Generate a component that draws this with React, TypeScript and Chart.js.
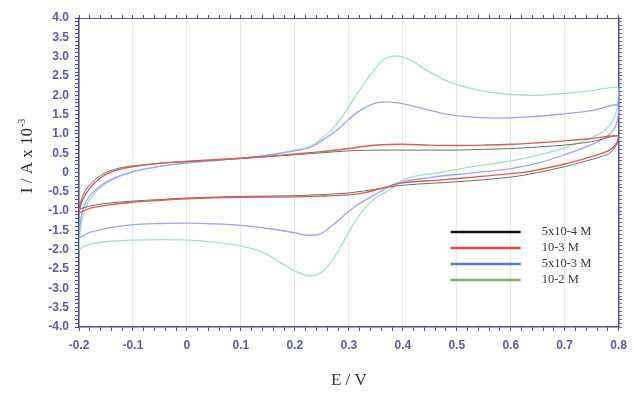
import { useEffect, useRef } from "react";
import { Chart, registerables } from "chart.js";

Chart.register(...registerables);

// Cyclic voltammograms: potential sweep -0.2 V -> 0.8 V -> -0.2 V
const seriesLabels = ["5x10-4 M", "10-3 M", "5x10-3 M", "10-2 M"];
const xTickValues = [-0.2, -0.1, 0, 0.1, 0.2, 0.3, 0.4, 0.5, 0.6, 0.7, 0.8];
const yTickValues = [-4, -3.5, -3, -2.5, -2, -1.5, -1, -0.5, 0, 0.5, 1, 1.5, 2, 2.5, 3, 3.5, 4];

// 5x10-4 M
const blackE = [
  -0.2, -0.198, -0.193, -0.185, -0.17, -0.15, -0.12, -0.08, -0.04, 0, 0.05, 0.1, 0.15, 0.2, 0.25, 0.3, 0.35, 0.4, 0.45, 0.5, 0.55, 0.6, 0.65, 0.7, 0.75, 0.8,
  0.798, 0.793, 0.785, 0.77, 0.74, 0.7, 0.65, 0.6, 0.5, 0.4, 0.35, 0.3, 0.25, 0.2, 0.1, 0, -0.05, -0.1, -0.15, -0.18, -0.2,
];
const blackI = [
  -0.95, -0.8, -0.6, -0.4, -0.18, 0.0, 0.13, 0.2, 0.25, 0.28, 0.32, 0.36, 0.41, 0.46, 0.51, 0.56, 0.58, 0.58, 0.58, 0.58, 0.6, 0.62, 0.66, 0.71, 0.8, 0.95,
  0.78, 0.65, 0.52, 0.42, 0.3, 0.15, 0.0, -0.12, -0.24, -0.33, -0.43, -0.53, -0.57, -0.6, -0.62, -0.66, -0.7, -0.74, -0.8, -0.87, -0.95,
];

// 10-3 M
const redE = [
  -0.2, -0.198, -0.193, -0.185, -0.17, -0.15, -0.12, -0.08, -0.04, 0, 0.05, 0.1, 0.15, 0.2, 0.25, 0.3, 0.33, 0.36, 0.4, 0.45, 0.5, 0.55, 0.6, 0.65, 0.7, 0.75, 0.8,
  0.798, 0.793, 0.785, 0.77, 0.75, 0.7, 0.644, 0.6, 0.53, 0.474, 0.4, 0.363, 0.33, 0.3, 0.25, 0.2, 0.1, 0.0, -0.05, -0.1, -0.15, -0.18, -0.2,
];
const redI = [
  -1.05, -0.9, -0.7, -0.5, -0.25, -0.05, 0.1, 0.19, 0.25, 0.29, 0.33, 0.37, 0.42, 0.48, 0.54, 0.62, 0.68, 0.72, 0.73, 0.71, 0.7, 0.71, 0.73, 0.77, 0.82, 0.88, 0.95,
  0.82, 0.7, 0.6, 0.5, 0.41, 0.22, 0.05, -0.03, -0.12, -0.19, -0.27, -0.4, -0.52, -0.58, -0.61, -0.63, -0.64, -0.68, -0.72, -0.77, -0.85, -0.93, -1.05,
];

// 5x10-3 M
const blueE = [
  -0.2, -0.199, -0.196, -0.19, -0.18, -0.165, -0.14, -0.1, -0.05, 0, 0.05, 0.1, 0.15, 0.2, 0.23, 0.26, 0.28, 0.3, 0.315, 0.333, 0.35, 0.366, 0.39, 0.425, 0.485, 0.566, 0.644, 0.7, 0.75, 0.8,
  0.799, 0.795, 0.787, 0.775, 0.75, 0.7, 0.65, 0.6, 0.53, 0.45, 0.39, 0.364, 0.345, 0.327, 0.31, 0.296, 0.28, 0.265, 0.245, 0.22, 0.2, 0.15, 0.1, 0.05, 0, -0.05, -0.1, -0.15, -0.18, -0.2,
];
const blueI = [
  -1.7, -1.45, -1.15, -0.85, -0.6, -0.4, -0.18, 0.02, 0.16, 0.25, 0.31, 0.37, 0.45, 0.56, 0.66, 0.92, 1.12, 1.38, 1.55, 1.7, 1.8, 1.83, 1.8, 1.7, 1.5, 1.41, 1.45, 1.52, 1.6, 1.75,
  1.45, 1.22, 1.05, 0.9, 0.72, 0.46, 0.24, 0.1, -0.01, -0.13, -0.27, -0.45, -0.6, -0.74, -0.9, -1.05, -1.25, -1.42, -1.6, -1.62, -1.56, -1.45, -1.37, -1.33, -1.31, -1.32, -1.35, -1.45, -1.55, -1.7,
];

// 10-2 M
const greenE = [
  -0.2, -0.199, -0.196, -0.19, -0.18, -0.165, -0.14, -0.1, -0.05, 0, 0.05, 0.1, 0.15, 0.2, 0.23, 0.26, 0.28, 0.3, 0.32, 0.345, 0.365, 0.385, 0.405, 0.425, 0.45, 0.48, 0.52, 0.56, 0.6, 0.65, 0.7, 0.75, 0.8,
  0.799, 0.795, 0.787, 0.775, 0.75, 0.7, 0.65, 0.6, 0.53, 0.47, 0.41, 0.375, 0.35, 0.327, 0.302, 0.278, 0.254, 0.229, 0.2, 0.17, 0.14, 0.1, 0.05, 0, -0.05, -0.1, -0.14, -0.17, -0.19, -0.2,
];
const greenI = [
  -2.0, -1.7, -1.35, -1.0, -0.7, -0.45, -0.2, 0.02, 0.16, 0.25, 0.31, 0.37, 0.45, 0.58, 0.7, 1.0, 1.3, 1.7, 2.14, 2.62, 2.93, 3.02, 2.97, 2.82, 2.6, 2.38, 2.2, 2.08, 2.02, 2.0, 2.05, 2.12, 2.19,
  1.85, 1.55, 1.3, 1.1, 0.9, 0.64, 0.45, 0.3, 0.15, 0.0, -0.14, -0.45, -0.65, -0.97, -1.49, -2.09, -2.53, -2.68, -2.55, -2.3, -2.06, -1.9, -1.8, -1.75, -1.74, -1.75, -1.78, -1.83, -1.9, -2.0,
];

const lineColors = ["#6e6e6e", "#e05a5a", "#a2a4ee", "#a4e0c6"];
const legendColors = ["#111111", "#e84444", "#5479c4", "#8ca872"];

const axisColor = "#4d4d9a";
const tickTextColor = "#5c5ca2";
const yTitleMain = "I / A x 10";
const yTitleExp = "-3";

const toPoints = (e: number[], i: number[]) => e.map((x, k) => ({ x, y: i[k] }));

const isXMajor = (v: number) => xTickValues.some((t) => Math.abs(t - v) < 1e-6);
const isYMajor = (v: number) => yTickValues.some((t) => Math.abs(t - v) < 1e-6);
const fmt = (v: number) => (Math.abs(v) < 1e-9 ? "0" : v.toFixed(1));

const legendPlugin = {
  id: "cvLegend",
  afterDraw(chart: any) {
    const { ctx, chartArea } = chart;
    const x0 = chartArea.right - 168;
    const x1 = chartArea.right - 98;
    const tx = chartArea.right - 77;
    let y = chartArea.bottom - 95;
    ctx.save();
    ctx.font = "12.5px 'Liberation Serif'";
    ctx.textBaseline = "middle";
    ctx.textAlign = "left";
    seriesLabels.forEach((label, i) => {
      ctx.strokeStyle = legendColors[i];
      ctx.lineWidth = 2.5;
      ctx.beginPath();
      ctx.moveTo(x0, y);
      ctx.lineTo(x1, y);
      ctx.stroke();
      ctx.fillStyle = "#3a3a3a";
      ctx.fillText(label, tx, y);
      y += 16;
    });
    ctx.restore();
  },
};

const yTitlePlugin = {
  id: "yTitle",
  afterDraw(chart: any) {
    const { ctx, chartArea } = chart;
    ctx.save();
    ctx.translate(28, chartArea.top + 138);
    ctx.rotate(-Math.PI / 2);
    ctx.fillStyle = "#333333";
    ctx.textBaseline = "middle";
    ctx.textAlign = "left";
    ctx.font = "17px 'Liberation Serif'";
    const w1 = ctx.measureText(yTitleMain).width;
    ctx.font = "10px 'Liberation Serif'";
    const w2 = ctx.measureText(yTitleExp).width;
    const start = -(w1 + w2 + 1) / 2;
    ctx.font = "17px 'Liberation Serif'";
    ctx.fillText(yTitleMain, start, 0);
    ctx.font = "10px 'Liberation Serif'";
    ctx.fillText(yTitleExp, start + w1 + 1, -6);
    ctx.restore();
  },
};

export default function App() {
  const canvasRef = useRef<HTMLCanvasElement>(null);

  useEffect(() => {
    document.body.style.margin = "0";
    const tickFont = { family: "'Liberation Sans', Arial, sans-serif", size: 12, weight: "bold" };
    const sets = [
      { label: seriesLabels[0], data: toPoints(blackE, blackI), color: lineColors[0], width: 1, order: 1 },
      { label: seriesLabels[1], data: toPoints(redE, redI), color: lineColors[1], width: 1.4, order: 0 },
      { label: seriesLabels[2], data: toPoints(blueE, blueI), color: lineColors[2], width: 1.3, order: 2 },
      { label: seriesLabels[3], data: toPoints(greenE, greenI), color: lineColors[3], width: 1.3, order: 3 },
    ];

    const chart = new Chart(canvasRef.current!, {
      type: "scatter",
      data: {
        datasets: sets.map((s) => ({
          label: s.label,
          data: s.data,
          showLine: true,
          borderColor: s.color,
          backgroundColor: s.color,
          borderWidth: s.width,
          pointRadius: 0,
          pointHoverRadius: 0,
          tension: 0.35,
          fill: false,
          order: s.order,
        })),
      },
      options: {
        animation: false,
        responsive: false,
        layout: { padding: 0 },
        plugins: {
          legend: { display: false },
          tooltip: { enabled: false },
        },
        scales: {
          x: {
            type: "linear",
            position: "bottom",
            min: -0.2,
            max: 0.8,
            ticks: {
              stepSize: 0.02,
              autoSkip: false,
              maxRotation: 0,
              padding: 7,
              color: tickTextColor,
              font: tickFont,
              callback: (v: any) => (isXMajor(Number(v)) ? fmt(Number(v)) : ""),
            },
            grid: {
              color: (c: any) => (c.tick && isXMajor(c.tick.value) ? "rgba(205,205,225,0.5)" : "transparent"),
              tickColor: axisColor,
              tickLength: 4,
            },
            border: { color: axisColor, width: 1.5 },
            title: {
              display: true,
              text: "E / V",
              color: "#333333",
              font: { family: "'Liberation Serif', serif", size: 17 },
              padding: { top: 0, bottom: 3 },
            },
            afterFit: (s: any) => {
              s.height = 67;
            },
          },
          x2: {
            type: "linear",
            position: "top",
            min: -0.2,
            max: 0.8,
            ticks: { display: false, stepSize: 0.02, autoSkip: false },
            grid: { drawOnChartArea: false, tickColor: axisColor, tickLength: 3 },
            border: { color: "#5a5a88", width: 1 },
            afterFit: (s: any) => {
              s.height = 18;
            },
          },
          y: {
            type: "linear",
            position: "left",
            min: -4,
            max: 4,
            ticks: {
              stepSize: 0.1,
              autoSkip: false,
              padding: 6,
              color: tickTextColor,
              font: tickFont,
              callback: (v: any) => (isYMajor(Number(v)) ? fmt(Number(v)) : ""),
            },
            grid: { color: "transparent", tickColor: axisColor, tickLength: 4 },
            border: { color: axisColor, width: 1.5 },
            afterFit: (s: any) => {
              s.width = 79;
            },
          },
          y2: {
            type: "linear",
            position: "right",
            min: -4,
            max: 4,
            ticks: { display: false, stepSize: 0.1, autoSkip: false },
            grid: { drawOnChartArea: false, tickColor: axisColor, tickLength: 3 },
            border: { color: axisColor, width: 1.5 },
            afterFit: (s: any) => {
              s.width = 9;
            },
          },
        },
      },
      plugins: [legendPlugin, yTitlePlugin],
    } as any);

    return () => chart.destroy();
  }, []);

  return (
    <div style={{ width: 634, height: 394 }}>
      <canvas ref={canvasRef} width={634} height={394} style={{ display: "block" }} />
    </div>
  );
}
